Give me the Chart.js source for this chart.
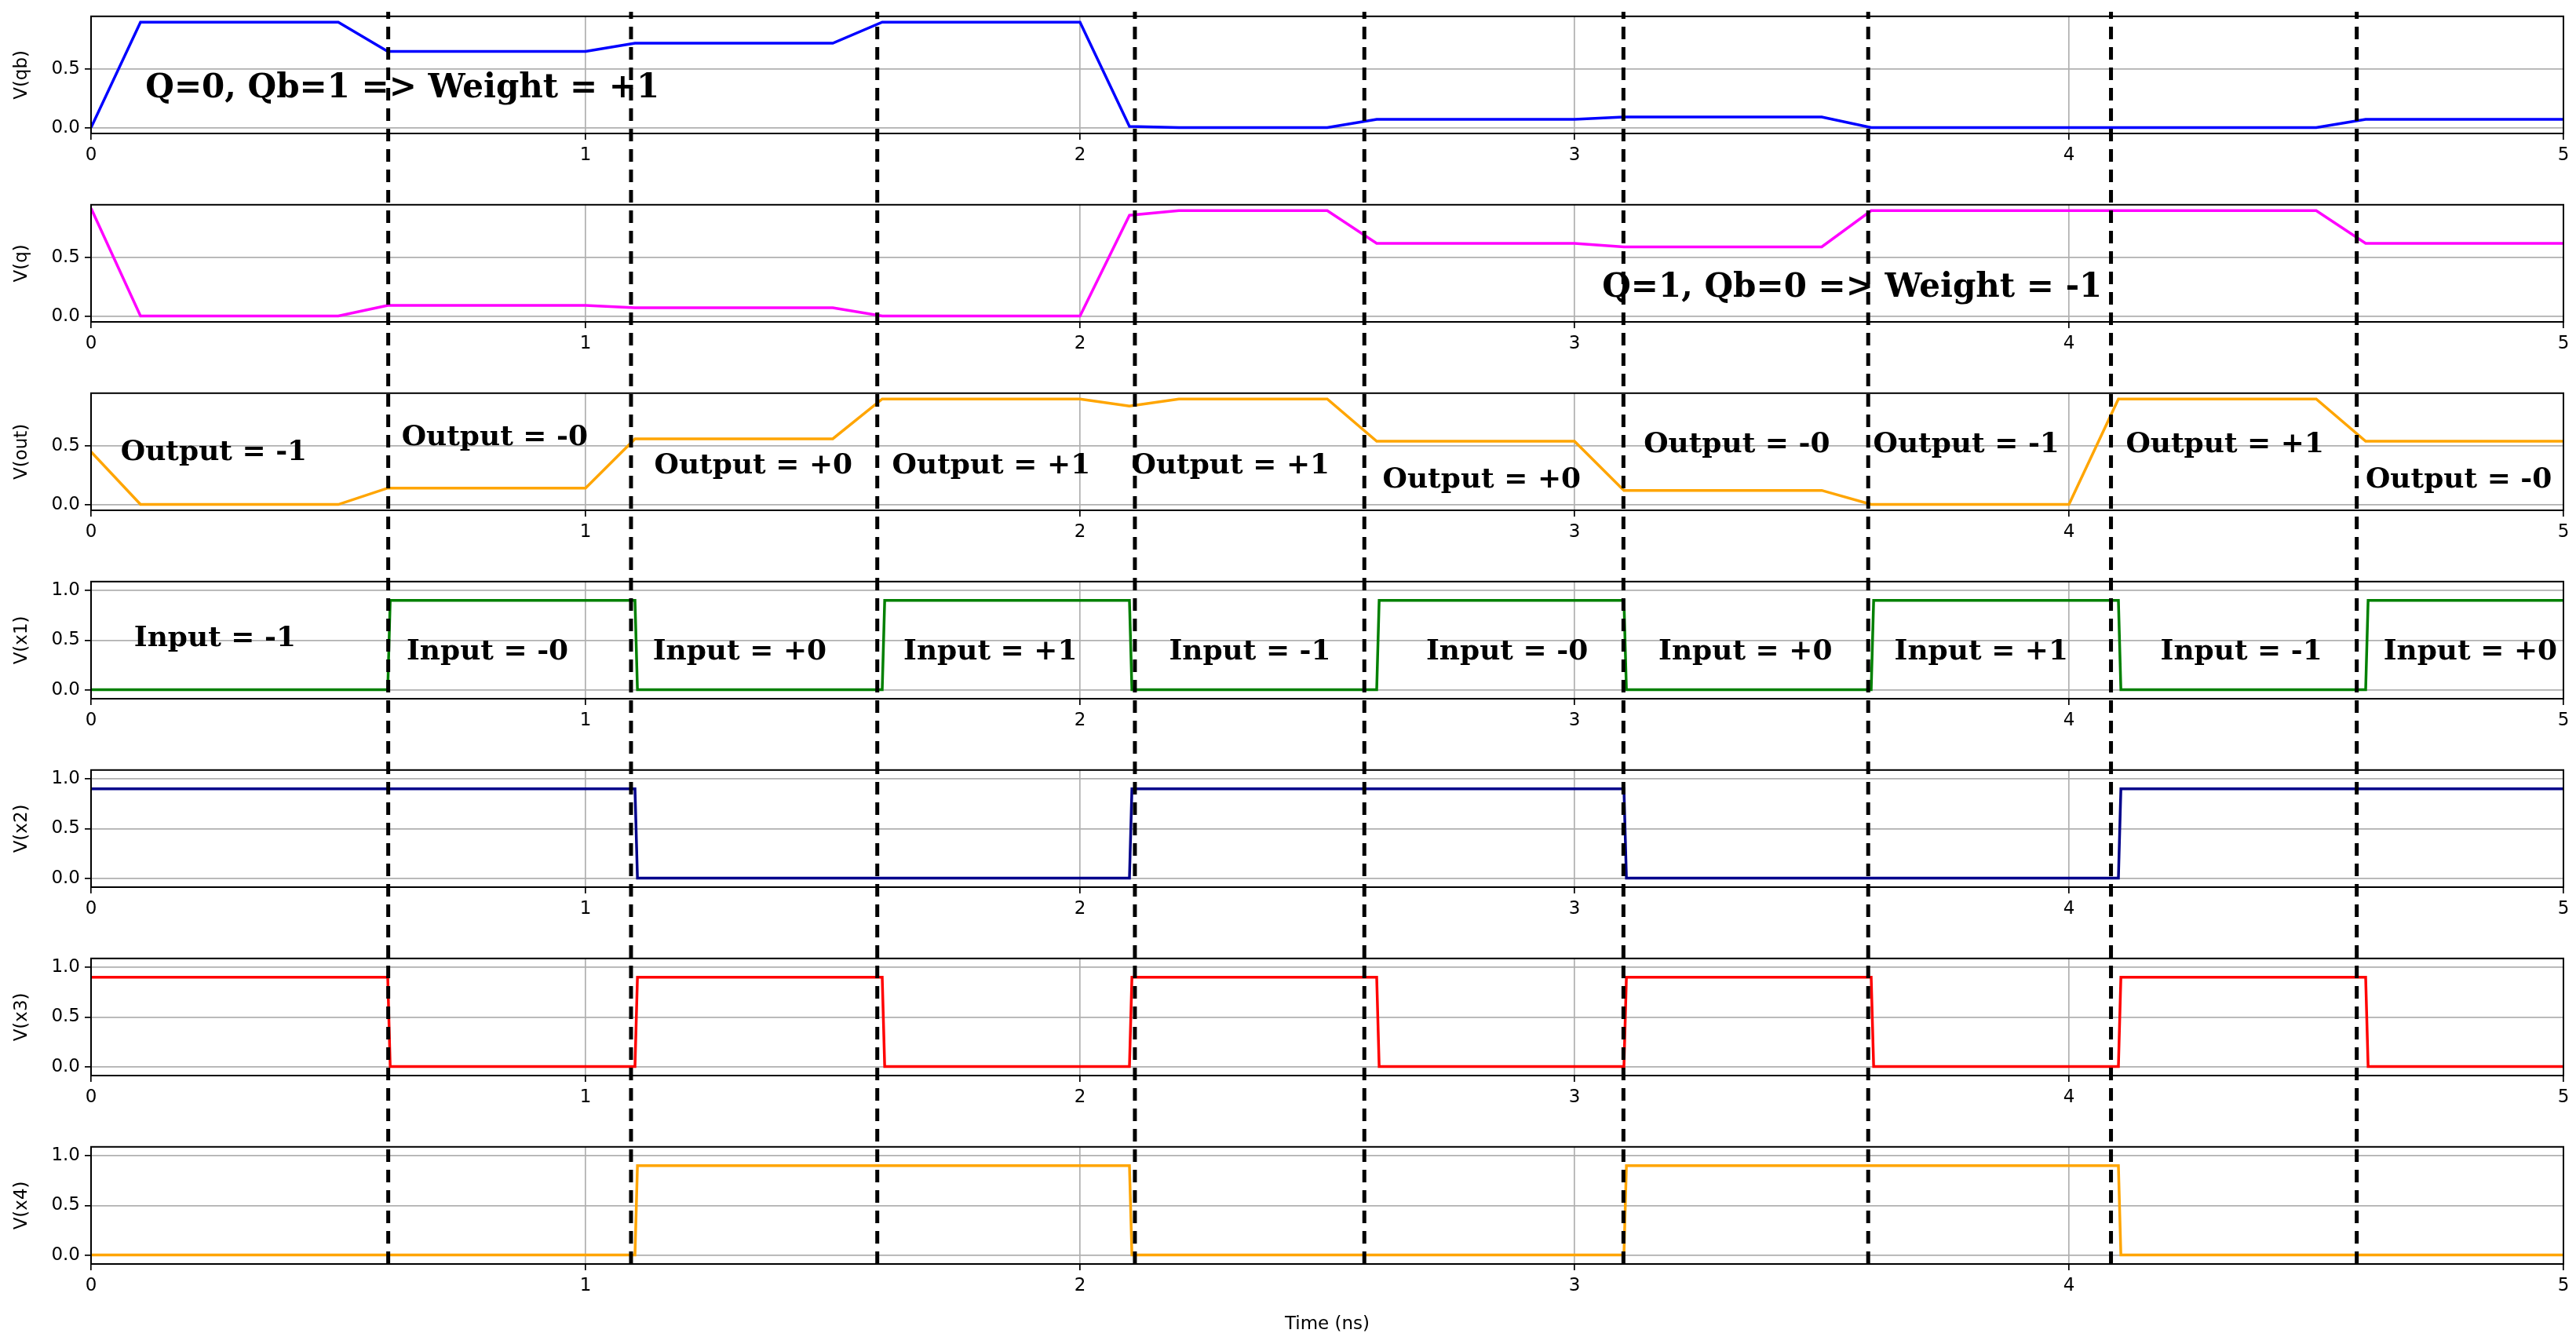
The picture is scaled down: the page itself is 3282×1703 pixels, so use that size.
<!DOCTYPE html>
<html><head><meta charset="utf-8">
<script src="https://cdn.jsdelivr.net/npm/chart.js@4"></script>
<style>body{margin:0;width:3282px;height:1703px;background:#fff;position:relative;overflow:hidden}
.p{position:absolute;left:0;width:3282px}</style></head><body>
<script>
const xTicks=[0,1,2,3,4,5];
const yTicksA=[0,0.5];
const yTicksD=[0,0.5,1];
const tA=[0,0.1,0.5,0.6,1.0,1.1,1.5,1.6,2.0,2.1,2.2,2.5,2.6,3.0,3.1,3.5,3.6,4.0,4.1,4.5,4.6,5.0];
const qb=[0,0.9,0.9,0.65,0.65,0.72,0.72,0.9,0.9,0.01,0,0,0.07,0.07,0.09,0.09,0,0,0,0,0.07,0.07];
const q=[0.92,0,0,0.09,0.09,0.07,0.07,0,0,0.86,0.9,0.9,0.62,0.62,0.59,0.59,0.9,0.9,0.9,0.9,0.62,0.62];
const out=[0.45,0,0,0.14,0.14,0.56,0.56,0.9,0.9,0.84,0.9,0.9,0.54,0.54,0.12,0.12,0,0,0.9,0.9,0.54,0.54];
const tD=[0,0.6,0.605,1.1,1.105,1.6,1.605,2.1,2.105,2.6,2.605,3.1,3.105,3.6,3.605,4.1,4.105,4.6,4.605,5];
const x1=[0,0,0.9,0.9,0,0,0.9,0.9,0,0,0.9,0.9,0,0,0.9,0.9,0,0,0.9,0.9];
const x2=[0.9,0.9,0.9,0.9,0,0,0,0,0.9,0.9,0.9,0.9,0,0,0,0,0.9,0.9,0.9,0.9];
const x3=[0.9,0.9,0,0,0.9,0.9,0,0,0.9,0.9,0,0,0.9,0.9,0,0,0.9,0.9,0,0];
const x4=[0,0,0,0,0.9,0.9,0.9,0.9,0,0,0,0,0.9,0.9,0.9,0.9,0,0,0,0];
const markers=[0.601,1.092,1.59,2.111,2.575,3.099,3.594,4.085,4.582];
const notesQb=[[0.11,0.33,'Q=0, Qb=1 => Weight = +1',42]];
const notesQ=[[3.056,0.24,'Q=1, Qb=0 => Weight = -1',42]];
const notesOut=[[0.06,0.44,'Output = -1'],[0.628,0.57,'Output = -0'],[1.139,0.33,'Output = +0'],[1.62,0.33,'Output = +1'],[2.104,0.33,'Output = +1'],[2.612,0.21,'Output = +0'],[3.14,0.51,'Output = -0'],[3.604,0.51,'Output = -1'],[4.115,0.51,'Output = +1'],[4.60,0.21,'Output = -0']];
const notesIn=[[0.087,0.51,'Input = -1'],[0.638,0.38,'Input = -0'],[1.136,0.38,'Input = +0'],[1.643,0.38,'Input = +1'],[2.18,0.38,'Input = -1'],[2.70,0.38,'Input = -0'],[3.17,0.38,'Input = +0'],[3.647,0.38,'Input = +1'],[4.185,0.38,'Input = -1'],[4.636,0.38,'Input = +0']];

Chart.defaults.font.family='DejaVu Sans';
Chart.defaults.font.size=23;
Chart.defaults.color='#000';
const TOP=15,PITCH=240,AREA_H=155,LEFT=116,RIGHT=3266,PADTOP=14;

const framePlugin={id:'frame',afterDatasetsDraw(c){const a=c.chartArea,x=c.ctx;x.save();x.strokeStyle='#000';x.lineWidth=2;x.strokeRect(a.left,a.top,a.right-a.left,a.bottom-a.top);
 const n=c.options.plugins.notes||[];x.fillStyle='#000';x.textBaseline='middle';x.textAlign='left';
 n.forEach(([px,py,t,fs])=>{x.font='bold '+(fs||36)+'px "DejaVu Serif"';x.fillText(t,c.scales.x.getPixelForValue(px),c.scales.y.getPixelForValue(py));});x.restore();}};

function panel(i,label,t,v,color,digital,notes,last){
 const d=document.createElement('div');d.className='p';
 const xh=last?95:60;
 d.style.top=(TOP+i*PITCH-PADTOP)+'px';d.style.height=(PADTOP+AREA_H+xh)+'px';
 const cv=document.createElement('canvas');d.appendChild(cv);document.body.appendChild(d);
 new Chart(cv,{type:'line',data:{datasets:[{data:t.map((tt,k)=>({x:tt,y:v[k]})),borderColor:color,borderWidth:3.5,pointRadius:0,tension:0}]},
  options:{responsive:true,maintainAspectRatio:false,animation:false,devicePixelRatio:1,
   layout:{padding:{top:0,right:3282-RIGHT,left:0,bottom:0}},
   plugins:{legend:{display:false},tooltip:{enabled:false},notes:notes},
   scales:{
    x:{type:'linear',min:0,max:5,afterBuildTicks:s=>{s.ticks=xTicks.map(v=>({value:v}))},
      ticks:{callback:v=>String(v),maxRotation:0,padding:6},
      grid:{color:'#b0b0b0',lineWidth:1.7,tickLength:8,tickColor:'#000'},border:{display:false},
      title:{display:!!last,text:'Time (ns)',font:{size:23},padding:{top:6}},
      afterFit:s=>{s.height=xh}},
    y:{min:digital?-0.09:-0.05,max:digital?1.09:0.95,afterBuildTicks:s=>{s.ticks=(digital?yTicksD:yTicksA).map(v=>({value:v}))},
      ticks:{callback:v=>v.toFixed(1),padding:6},
      grid:{color:'#b0b0b0',lineWidth:1.7,tickLength:8,tickColor:'#000'},border:{display:false},
      title:{display:true,text:label,font:{size:23},padding:{bottom:4,top:14}},
      afterFit:s=>{s.width=LEFT}}}},
  plugins:[framePlugin]});
}
panel(0,'V(qb)',tA,qb,'#0000ff',false,notesQb);
panel(1,'V(q)',tA,q,'#ff00ff',false,notesQ);
panel(2,'V(out)',tA,out,'#ffa500',false,notesOut);
panel(3,'V(x1)',tD,x1,'#008000',true,notesIn);
panel(4,'V(x2)',tD,x2,'#00008b',true,[]);
panel(5,'V(x3)',tD,x3,'#ff0000',true,[]);
panel(6,'V(x4)',tD,x4,'#ffa500',true,[],true);

const od=document.createElement('div');od.style.cssText=`position:absolute;left:${LEFT}px;width:${RIGHT-LEFT}px;top:${TOP}px;height:${6*PITCH+AREA_H}px;z-index:5;pointer-events:none`;
const oc=document.createElement('canvas');od.appendChild(oc);document.body.appendChild(od);
new Chart(oc,{type:'line',data:{datasets:markers.map(m=>({data:[{x:m,y:0},{x:m,y:1}],borderColor:'#000',borderWidth:5,borderDash:[16,10],pointRadius:0}))},
 options:{responsive:true,maintainAspectRatio:false,animation:false,devicePixelRatio:1,layout:{padding:0},
  plugins:{legend:{display:false},tooltip:{enabled:false}},
  scales:{x:{type:'linear',min:0,max:5,display:false},y:{min:0,max:1,display:false}}}});
</script></body></html>
